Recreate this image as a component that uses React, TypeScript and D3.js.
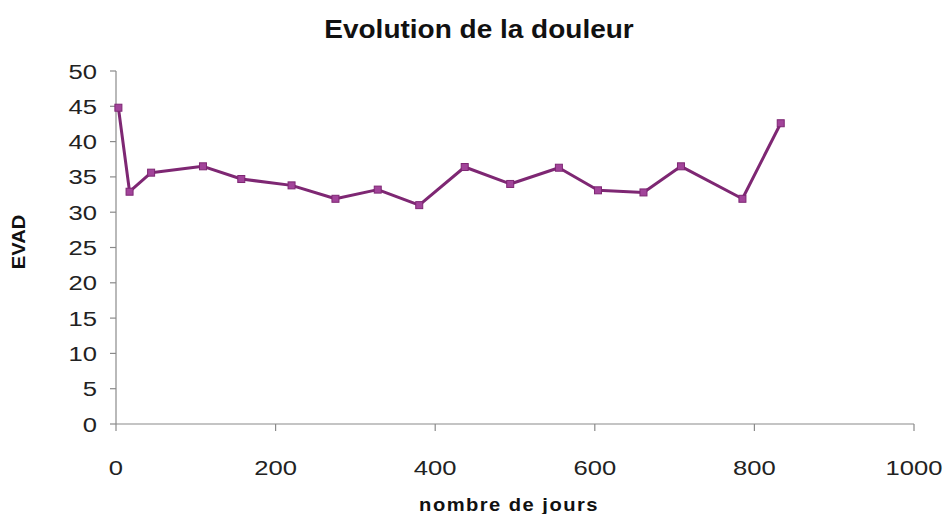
import React from "react";
import * as d3 from "d3";

const days = [3, 17, 44, 109, 157, 220, 275, 328, 380, 437, 494, 555, 604, 661, 708, 785, 833];
const evad = [44.8, 32.9, 35.6, 36.5, 34.7, 33.8, 31.9, 33.2, 31.0, 36.4, 34.0, 36.3, 33.1, 32.8, 36.5, 31.9, 42.6];
const xTicks = [0, 200, 400, 600, 800, 1000];
const yTicks = [0, 5, 10, 15, 20, 25, 30, 35, 40, 45, 50];

const W = 947, H = 514;
const left = 116, right = 914, top = 71, bottom = 424;

export default function App() {
  const x = d3.scaleLinear().domain([0, 1000]).range([left, right]);
  const y = d3.scaleLinear().domain([0, 50]).range([bottom, top]);
  const pts = days.map((d, i) => [d, evad[i]] as [number, number]);
  const line = d3.line<[number, number]>().x(d => x(d[0])).y(d => y(d[1]));
  const font = "'Liberation Sans', Arial, sans-serif";
  const axisColor = "#8a8a8a";
  const sx = 1.22;
  return (
    <svg width={W} height={H} style={{ position: "absolute", left: 0, top: 0, background: "#fff" }} fontFamily={font}>
      <text transform={`translate(479,38) scale(1.12,1)`} textAnchor="middle" fontSize={25} fontWeight="bold" fill="#111">Evolution de la douleur</text>
      {/* y axis */}
      <line x1={left} x2={left} y1={top} y2={bottom} stroke={axisColor} strokeWidth={1.2} />
      {yTicks.map(t => (
        <g key={"y" + t}>
          <line x1={left - 6} x2={left} y1={y(t)} y2={y(t)} stroke={axisColor} strokeWidth={1.2} />
          <text transform={`translate(${left - 19},${y(t) + 7.5}) scale(${sx},1)`} textAnchor="end" fontSize={21} fill="#222">{t}</text>
        </g>
      ))}
      {/* x axis */}
      <line x1={left} x2={right} y1={bottom} y2={bottom} stroke={axisColor} strokeWidth={1.2} />
      {xTicks.map(t => (
        <g key={"x" + t}>
          <line x1={x(t)} x2={x(t)} y1={bottom} y2={bottom + 7} stroke={axisColor} strokeWidth={1.2} />
          <text transform={`translate(${x(t)},475) scale(${sx},1)`} textAnchor="middle" fontSize={21} fill="#222">{t}</text>
        </g>
      ))}
      <text transform={`translate(509,511) scale(1.12,1)`} textAnchor="middle" fontSize={18} fontWeight="bold" letterSpacing={1.3} fill="#111">nombre de jours</text>
      <text transform={`translate(25,242) rotate(-90) scale(1.12,1)`} textAnchor="middle" fontSize={18} fontWeight="bold" fill="#111">EVAD</text>
      <path d={line(pts) || ""} fill="none" stroke="#7e2773" strokeWidth={3} strokeLinejoin="round" />
      {pts.map((p, i) => (
        <rect key={i} x={x(p[0]) - 3.5} y={y(p[1]) - 3.5} width={7} height={7} fill="#a2449a" stroke="#7e2773" strokeWidth={1} />
      ))}
    </svg>
  );
}
